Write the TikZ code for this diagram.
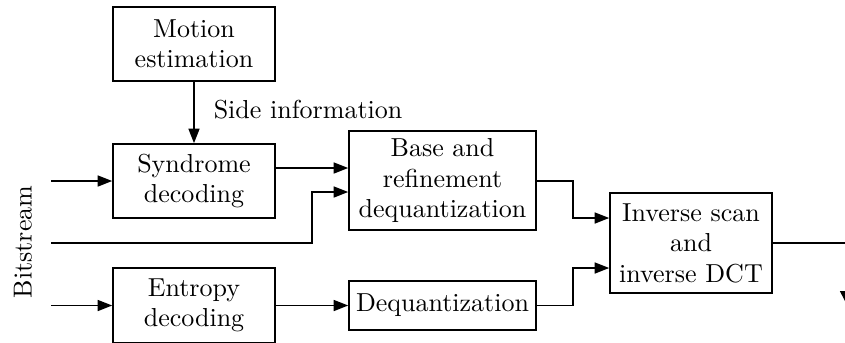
\documentclass[tikz,border=0pt]{standalone}
\usetikzlibrary{arrows.meta}
\begin{document}
\begin{tikzpicture}[x=0.4pt,y=-0.4pt, line width=0.6pt,
  txt/.style={font=\fontsize{10.4}{12.2}\selectfont},
  blk/.style={draw, txt, line width=0.65pt, align=center, inner sep=0pt},
  arr/.style={-{Triangle[length=5.8pt,width=4.4pt]}},
  arrout/.style={-{Triangle[length=5.2pt,width=5.2pt]}}]
\useasboundingbox (0,0) rectangle (845,342);
\clip (0,0) rectangle (845,342);
% blocks
\node[blk, minimum width=64.8pt, minimum height=29.6pt] (mot) at (194,44) {Motion\\estimation};
\node[blk, minimum width=64.8pt, minimum height=29.6pt] (synd) at (194,181) {Syndrome\\decoding};
\node[blk, minimum width=64.8pt, minimum height=30pt] (entr) at (194,305.5) {Entropy\\decoding};
\node[blk, minimum width=74.8pt, minimum height=39.6pt] (base) at (442.5,180.5) {Base and\\refinement\\dequantization};
\node[blk, minimum width=74.8pt, minimum height=19.6pt] (deq) at (442.5,305.5) {Dequantization};
\node[blk, minimum width=64.8pt, minimum height=40pt] (inv) at (691,243) {Inverse scan\\and\\inverse DCT};
% labels
\node[txt, anchor=west, inner sep=0pt] (side) at (213,110) {Side information};
\node[txt, rotate=90, inner sep=0pt] (bits) at (23,242) {Bitstream};
% helper coordinates
\coordinate (b1) at (51,181);
\coordinate (b2) at (51,243);
\coordinate (b3) at (51,305.5);
\coordinate (y168) at (0,168);
\coordinate (y192) at (0,192);
\coordinate (y218) at (0,218);
\coordinate (y268) at (0,268);
\coordinate (j1) at (312,243);
\coordinate (j2) at (573,181);
\coordinate (j3) at (573,305.5);
\coordinate (o1) at (846.5,243);
\coordinate (o2) at (846.5,304);
% connectors
\draw[arr] (mot) -- (synd);
\draw[arr] (b1) -- (synd.west);
\draw[arr] (b3) -- (entr.west);
\draw[arr] (synd.east |- y168) -- (base.west |- y168);
\draw[arr] (b2) -- (j1) -- (j1 |- y192) -- (base.west |- y192);
\draw[arr] (entr.east) -- (deq.west);
\draw[arr] (base.east |- j2) -- (j2) -- (j2 |- y218) -- (inv.west |- y218);
\draw[arr] (deq.east) -- (j3) -- (j3 |- y268) -- (inv.west |- y268);
\draw[arrout] (inv.east) -- (o1) -- (o2);
\end{tikzpicture}
\end{document}
